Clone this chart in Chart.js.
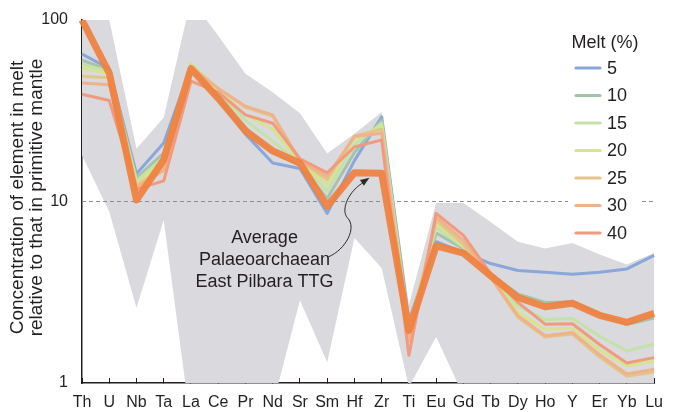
<!DOCTYPE html>
<html>
<head>
<meta charset="utf-8">
<script src="https://cdn.jsdelivr.net/npm/chart.js@4.4.1/dist/chart.umd.min.js"></script>
<style>
  html, body { margin: 0; padding: 0; background: #fff; }
  #wrap { width: 678px; height: 412px; }
</style>
</head>
<body>
<div id="wrap"><canvas id="chart" width="678" height="412"></canvas></div>
<script>
// Elements along the x axis (primitive-mantle normalised spider diagram)
const elements = ['Th','U','Nb','Ta','La','Ce','Pr','Nd','Sr','Sm','Hf','Zr','Ti','Eu','Gd','Tb','Dy','Ho','Y','Er','Yb','Lu'];

// Modelled melt compositions for each degree of melting (%)
const meltLevels = ['5', '10', '15', '20', '25', '30', '40'];
const melt5  = [65, 54, 14.2, 21, 55, 37, 23.5, 16.3, 15.2, 8.6, 16.8, 29.3, 2.2, 6.0, 5.25, 4.55, 4.17, 4.07, 3.97, 4.07, 4.25, 5.05];
const melt10 = [60, 53, 13.5, 18.5, 56, 38, 25.5, 18.5, 15.8, 10.4, 18.6, 28, 2.1, 6.7, 5.5, 3.95, 3.1, 2.78, 2.8, 2.4, 2.1, 2.28];
const melt15 = [57, 52, 13, 17.5, 57.5, 40, 28, 21.5, 16.2, 11.4, 20.5, 27, 2.0, 7.2, 5.6, 3.9, 2.65, 2.24, 2.27, 1.81, 1.5, 1.64];
const melt20 = [54, 51, 12.5, 16.8, 57, 41, 30, 25, 16.5, 12.4, 22, 26, 1.95, 7.55, 5.7, 3.85, 2.45, 1.98, 2.0, 1.52, 1.24, 1.32];
const melt25 = [49, 48, 12.2, 15.5, 56, 42, 33, 29.5, 16.7, 13.2, 23, 25, 1.85, 7.9, 5.8, 3.8, 2.3, 1.79, 1.86, 1.39, 1.09, 1.15];
const melt30 = [45, 44, 11.9, 14.8, 54, 42, 33.5, 30, 16.8, 13.8, 22.8, 23.8, 1.7, 8.2, 6.1, 3.85, 2.35, 1.82, 1.9, 1.43, 1.12, 1.19];
const melt40 = [39, 36, 11.7, 13, 46, 40, 30, 27, 17.2, 14.4, 20, 21.8, 1.42, 8.6, 6.5, 4.0, 2.78, 2.11, 2.12, 1.63, 1.29, 1.38];

// Average Palaeoarchaean East Pilbara TTG
const ttgAverage = [100, 51, 10.2, 17, 54, 37, 24.5, 19, 16.3, 9.4, 14.4, 14.3, 1.95, 5.7, 5.2, 3.9, 2.96, 2.63, 2.75, 2.36, 2.16, 2.42];

// Range of East Pilbara TTG compositions (upper and lower bounds)
const envelopeUpper = [150, 100, 19.5, 29, 130, 82, 50.6, 40, 30.6, 18.4, 23.6, 31, 2.7, 9.8, 9.8, 7.7, 6.0, 5.5, 5.9, 5.1, 4.5, 5.2];
const envelopeLower = [18, 8.8, 2.6, 7.9, 0.58, 0.5, 0.5, 0.75, 2.86, 1.3, 6.3, 4.3, 0.95, 1.8, 0.85, 0.5, 0.5, 0.5, 0.5, 0.5, 0.5, 0.5];

// Axis ticks and reference level
const yTickValues = [1, 10, 100];
const referenceLevel = 10;

const meltColors = ['#8ba6d9', '#a5c3ac', '#c2e2a8', '#d7e38f', '#e2c58b', '#f0b28a', '#f09a80'];
const meltSeries = [melt5, melt10, melt15, melt20, melt25, melt30, melt40];
const ttgColor = 'rgba(240,128,62,0.92)';
const textColor = '#231f20';
const fontFamily = '"Liberation Sans", Arial, Helvetica, sans-serif';

const datasets = [
  { label: 'upper', data: envelopeUpper, fill: '+1', backgroundColor: '#d9d9de',
    borderWidth: 0, pointRadius: 0, order: 30 },
  { label: 'lower', data: envelopeLower, fill: false, borderWidth: 0, pointRadius: 0, order: 30 },
  { label: 'ref', data: elements.map(() => referenceLevel), borderColor: '#8e8e8e', borderWidth: 1,
    borderDash: [4, 3], pointRadius: 0, fill: false, order: 20 }
];
meltSeries.forEach((values, i) => {
  datasets.push({
    label: meltLevels[i], data: values, borderColor: meltColors[i], borderWidth: 3,
    pointRadius: 0, fill: false, tension: 0, borderJoinStyle: 'round', order: 10 - i
  });
});
datasets.push({
  label: 'Average Palaeoarchaean East Pilbara TTG', data: ttgAverage, borderColor: ttgColor,
  borderWidth: 7, pointRadius: 0, fill: false, tension: 0, borderJoinStyle: 'round', order: 0
});

// Rotated two-line y-axis title
const yTitlePlugin = {
  id: 'yTitle',
  afterDraw(chart) {
    const { ctx, chartArea } = chart;
    const cy = (chartArea.top + chartArea.bottom) / 2 - 4;
    ctx.save();
    ctx.fillStyle = textColor;
    ctx.font = '19px ' + fontFamily;
    ctx.textAlign = 'center';
    ctx.textBaseline = 'middle';
    ctx.translate(0, cy);
    ctx.rotate(-Math.PI / 2);
    ctx.fillText('Concentration of element in melt', 0, 18);
    ctx.fillText('relative to that in primitive mantle', 0, 37);
    ctx.restore();
  }
};

// Legend for melt fractions
const legendPlugin = {
  id: 'meltLegend',
  afterDraw(chart) {
    const { ctx } = chart;
    const left = 576, top = 43, step = 27.5;
    ctx.save();
    ctx.fillStyle = '#ffffff';
    ctx.fillRect(568, 27, 72, 216);
    ctx.fillStyle = textColor;
    ctx.font = '18px ' + fontFamily;
    ctx.textBaseline = 'middle';
    ctx.textAlign = 'center';
    ctx.fillText('Melt (%)', 605, top);
    ctx.textAlign = 'left';
    meltLevels.forEach((lvl, i) => {
      const y = top + 25 + step * i;
      ctx.strokeStyle = meltColors[i];
      ctx.lineWidth = 3.2;
      ctx.lineCap = 'round';
      ctx.beginPath();
      ctx.moveTo(left, y);
      ctx.lineTo(left + 24, y);
      ctx.stroke();
      ctx.fillStyle = textColor;
      ctx.fillText(lvl, left + 31, y + 1);
    });
    ctx.restore();
  }
};

// Label and curved arrow pointing to the TTG average
const annotationPlugin = {
  id: 'ttgNote',
  afterDatasetsDraw(chart) {
    const { ctx } = chart;
    const xs = chart.scales.x, ys = chart.scales.y;
    const tx = xs.getPixelForValue(6.7);
    const ty = ys.getPixelForValue(6.3);
    ctx.save();
    ctx.fillStyle = textColor;
    ctx.font = '18px ' + fontFamily;
    ctx.textAlign = 'center';
    ctx.textBaseline = 'middle';
    ['Average', 'Palaeoarchaean', 'East Pilbara TTG'].forEach((s, i) => ctx.fillText(s, tx, ty + 22 * i));

    const ex = xs.getPixelForValue(10.55), ey = ys.getPixelForValue(13.5);
    const sx = ex - 41, sy = ey + 79;
    ctx.strokeStyle = '#2b2b2b';
    ctx.lineWidth = 1;
    ctx.beginPath();
    ctx.moveTo(sx, sy);
    ctx.bezierCurveTo(sx + 17, sy - 7, sx + 29, sy - 29, sx + 19, sy - 39);
    ctx.bezierCurveTo(sx + 12, sy - 47, sx + 20, sy - 66, ex - 5, ey + 4);
    ctx.stroke();
    const ang = Math.atan2(-4, 6);
    ctx.beginPath();
    ctx.moveTo(ex, ey);
    ctx.lineTo(ex - 9 * Math.cos(ang) - 3.5 * Math.sin(ang), ey - 9 * Math.sin(ang) + 3.5 * Math.cos(ang));
    ctx.lineTo(ex - 9 * Math.cos(ang) + 3.5 * Math.sin(ang), ey - 9 * Math.sin(ang) - 3.5 * Math.cos(ang));
    ctx.closePath();
    ctx.fillStyle = '#2b2b2b';
    ctx.fill();
    ctx.restore();
  }
};

new Chart(document.getElementById('chart'), {
  type: 'line',
  data: { labels: elements, datasets },
  options: {
    responsive: false,
    animation: false,
    devicePixelRatio: 1,
    layout: { padding: { top: 20, right: 12, left: 0, bottom: 0 } },
    plugins: { legend: { display: false }, tooltip: { enabled: false } },
    scales: {
      x: {
        type: 'category',
        offset: false,
        grid: { display: true, drawOnChartArea: false, drawTicks: true, tickLength: -5, color: textColor, lineWidth: 1 },
        border: { display: true, color: textColor, width: 1.5 },
        ticks: { color: textColor, font: { size: 16, family: fontFamily }, padding: 15, maxRotation: 0, autoSkip: false },
        afterFit(s) { s.height = 29; }
      },
      y: {
        type: 'logarithmic',
        min: 1,
        max: 100,
        afterBuildTicks(s) { s.ticks = yTickValues.map(v => ({ value: v })); },
        grid: { display: false },
        border: { display: true, color: textColor, width: 1.5 },
        ticks: { color: textColor, font: { size: 16, family: fontFamily }, padding: 6,
                 callback: v => String(v) },
        afterFit(s) { s.width = 82; }
      }
    }
  },
  plugins: [annotationPlugin, yTitlePlugin, legendPlugin]
});
</script>
</body>
</html>
